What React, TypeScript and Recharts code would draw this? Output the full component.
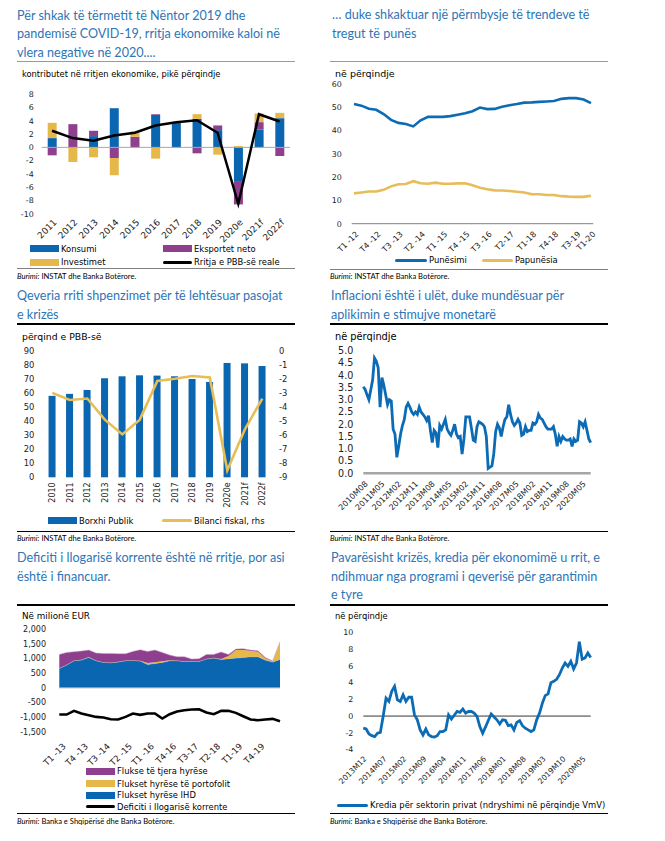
import React from "react";
import {
  BarChart, Bar, LineChart, Line, ComposedChart, Area, XAxis, YAxis, ReferenceLine,
} from "recharts";

// colours
const BLUE = "#0A66B0";
const PURPLE = "#8E3F8E";
const GOLD = "#E6B84A";
const TITLE = "#2E75B6";
const SANS = "'DejaVu Sans', Verdana, sans-serif";
const TITLE_FONT = "Lato, 'Open Sans', sans-serif";

// 1. GDP growth contributions
const gdpYears = ["2011", "2012", "2013", "2014", "2015", "2016", "2017", "2018", "2019", "2020e", "2021f", "2022f"];
const konsumi = [1.4, 0, 1.7, 5.9, 0, 4.9, 3.8, 4.3, 2.6, -5.2, 2.7, 4.4];
const eksportet = [-1.2, 3.5, 0.8, -1.6, 1.6, 0.1, 0, -0.9, 0.7, -3.4, 1.1, -1.3];
const investimet = [2.3, -2.2, -1.5, -2.6, 0.8, -1.7, -0.1, 0.7, -1.1, 0.2, 1.3, 0.8];
const rritja = [2.5, 1.4, 1.0, 1.8, 2.2, 3.3, 3.8, 4.1, 2.2, -8.5, 5.0, 3.9];
const gdpTicks = [-10, -8, -6, -4, -2, 0, 2, 4, 6, 8];

// 2. labour market
const labourQuarters = [
  "T1 -12", "T2 -12", "T3 -12", "T4 -12", "T1 -13", "T2 -13", "T3 -13", "T4 -13",
  "T1 -14", "T2 -14", "T3 -14", "T4 -14", "T1 -15", "T2 -15", "T3 -15", "T4 -15",
  "T1 -16", "T2 -16", "T3 -16", "T4 -16", "T1-17", "T2-17", "T3-17", "T4-17",
  "T1-18", "T2-18", "T3-18", "T4-18", "T1-19", "T2-19", "T3-19", "T4-19", "T1-20",
];
const labourLabels = ["T1 -12", "T4 -12", "T3 -13", "T2 -14", "T1 -15", "T4 -15", "T3 -16", "T2-17", "T1-18", "T4-18", "T3-19", "T1-20"];
const punesimi = [
  51.3, 50.6, 49.3, 48.8, 47.0, 44.5, 43.2, 42.7, 41.7, 44.3, 45.8, 45.8, 45.8, 46.1, 46.7, 47.3,
  48.2, 49.8, 49.1, 49.2, 50.1, 50.8, 51.3, 51.9, 52.0, 52.2, 52.4, 52.6, 53.5, 53.8, 53.8, 53.2, 51.7,
];
const papunesia = [
  13.0, 13.4, 13.8, 13.8, 14.5, 16.0, 16.9, 17.0, 18.2, 17.3, 17.1, 17.6, 17.1, 17.1, 17.3, 17.3,
  16.5, 15.4, 14.8, 14.3, 14.2, 14.0, 13.7, 13.4, 12.6, 12.6, 12.3, 12.3, 11.8, 11.6, 11.5, 11.5, 12.0,
];
const labourTicks = [0, 10, 20, 30, 40, 50, 60];

// 3. public debt and fiscal balance
const fiscalYears = ["2010", "2011", "2012", "2013", "2014", "2015", "2016", "2017", "2018", "2019", "2020e", "2021f", "2022f"];
const borxhi = [57.9, 59.3, 62.1, 70.4, 71.8, 72.5, 72.3, 71.8, 69.9, 67.8, 81.3, 81.0, 79.1];
const bilanci = [-3.0, -3.5, -3.4, -4.9, -5.95, -4.9, -2.15, -2.0, -1.8, -1.9, -8.5, -5.6, -3.4];
const debtTicks = [0, 10, 20, 30, 40, 50, 60, 70, 80, 90];
const balanceTicks = [0, -1, -2, -3, -4, -5, -6, -7, -8, -9];

// month labels like 2010M08
const months = (year: number, month: number, n: number) =>
  Array.from({ length: n }, (_, i) => {
    const t = month - 1 + i;
    return `${year + Math.floor(t / 12)}M${String((t % 12) + 1).padStart(2, "0")}`;
  });

// 4. inflation, 2010M08 - 2020M10
const inflMonths = months(2010, 8, 123);
const inflacioni = [
  3.53, 3.42, 3.2, 3.0, 3.4, 3.8, 4.7, 4.57, 4.3, 2.7,
  3.9, 3.6, 3.2, 2.8, 3.0, 2.95, 1.8, 1.6, 0.65, 1.1,
  1.6, 1.95, 2.2, 2.7, 2.85, 2.7, 2.5, 2.4, 2.5, 2.4,
  2.7, 2.5, 2.4, 2.3, 2.15, 2.35, 1.75, 1.25, 1.75, 1.65,
  1.05, 1.95, 1.8, 2.0, 2.2, 1.8, 1.65, 1.55, 1.75, 2.0,
  1.6, 1.45, 1.5, 0.78, 1.4, 2.3, 2.3, 2.3, 1.85, 1.35,
  1.3, 1.9, 2.1, 2.05, 2.0, 1.9, 1.5, 0.2, 0.25, 0.3,
  0.8, 1.7, 2.0, 1.85, 1.5, 1.9, 2.2, 2.3, 2.8, 2.4,
  2.1, 1.95, 2.05, 2.2, 2.05, 1.55, 1.6, 1.9, 1.7, 1.75,
  1.75, 2.05, 2.0, 2.1, 2.4, 2.25, 2.2, 2.05, 1.9, 1.8,
  1.8, 1.8, 1.9, 1.6, 1.1, 1.5, 1.3, 1.5, 1.4, 1.35,
  1.35, 1.4, 1.1, 1.4, 1.3, 1.35, 2.1, 2.05, 1.9, 2.1,
  1.75, 1.4, 1.25,
];
const inflTicks = [0, 0.5, 1, 1.5, 2, 2.5, 3, 3.5, 4, 4.5, 5];

// 5. current account and financing flows
const caQuarters = [
  "T1 -13", "T2 -13", "T3 -13", "T4 -13", "T1 -14", "T2 -14", "T3 -14", "T4 -14",
  "T1 -15", "T2 -15", "T3 -15", "T4 -15", "T1 -16", "T2 -16", "T3 -16", "T4-16",
  "T1-17", "T2-17", "T3-17", "T4-17", "T1-18", "T2-18", "T3-18", "T4-18",
  "T1-19", "T2-19", "T3-19", "T4-19", "T1-20", "T2-20", "T3-20",
];
const caLabels = ["T1 -13", "T4 -13", "T3 -14", "T2 -15", "T1 -16", "T4-16", "T3-17", "T2-18", "T1-19", "T4-19"];
const ihd = [662, 776, 925, 948, 1039, 925, 868, 856, 879, 925, 936, 914, 800, 834, 868, 925, 925, 902, 902, 902, 982, 1016, 971, 994, 1016, 1039, 1062, 1062, 948, 880, 971];
const portofoli = [10, 10, 10, 10, 10, 10, 10, 10, 10, 10, 10, 10, 50, 40, 40, 20, 10, 10, 10, 10, 10, 10, 10, 91, 274, 251, 206, 171, 60, 20, 605];
const tjera = [470, 424, 298, 298, 241, 253, 298, 310, 276, 230, 299, 378, 395, 416, 302, 174, 127, 150, 70, 82, 150, 116, 241, 57, 35, 46, 22, 34, 31, 20, 0];
const deficiti = [-914, -914, -788, -879, -936, -994, -1016, -1073, -1085, -994, -879, -925, -879, -879, -1051, -902, -811, -765, -742, -731, -845, -902, -788, -788, -856, -971, -1085, -1108, -1085, -1062, -1142];
const caTicks = [-1500, -1000, -500, 0, 500, 1000, 1500, 2000];

// 6. private sector credit, 2013M12 - 2020M08
const creditMonths = months(2013, 12, 81);
const kredia = [
  -1.45, -1.55, -2.15, -2.35, -2.45, -2.05, -1.95, 0.0, 2.15, 1.75,
  2.95, 3.55, 1.95, 1.75, 2.55, 1.75, 2.25, 2.25, 0.15, -0.45,
  -1.65, -2.25, -1.55, -2.25, -2.45, -2.5, -2.35, -1.85, -1.85, -1.65,
  0.15, -0.35, 0.1, 0.55, 0.45, 0.85, 0.35, 0.55, 0.55, 0.35,
  -0.05, -1.25, -2.05, -1.3, -0.5, 0.25, -0.1, -0.45, -0.95, -0.45,
  -0.5, -1.15, -1.05, -1.65, -0.75, -0.55, -1.15, -1.45, -1.65, -1.85,
  -1.65, -0.45, 0.35, 1.55, 2.45, 2.65, 4.0, 4.15, 4.4, 4.95,
  5.75, 6.35, 5.95, 6.55, 5.65, 6.35, 8.9, 6.8, 6.95, 7.55,
  7.0,
];
const creditTicks = [-4, -2, 0, 2, 4, 6, 8, 10];

const gdpData = gdpYears.map((name, i) => ({
  name, konsumi: konsumi[i], eksportet: eksportet[i], investimet: investimet[i], rritja: rritja[i],
}));
const labourData = labourQuarters.map((name, i) => ({ name, punesimi: punesimi[i], papunesia: papunesia[i] }));
const fiscalData = fiscalYears.map((name, i) => ({ name, borxhi: borxhi[i], bilanci: bilanci[i] }));
const inflData = inflMonths.map((name, i) => ({ name, v: inflacioni[i] }));
const caData = caQuarters.map((name, i) => ({
  name, ihd: ihd[i], portofoli: portofoli[i], tjera: tjera[i], deficiti: deficiti[i],
}));
const creditData = creditMonths.map((name, i) => ({ name, v: kredia[i] }));

const tick = (size = 8) => ({ fontSize: size, fill: "#222", fontFamily: SANS });

function slantTick(show: Set<string>, size: number, dx = 2, dy = 0) {
  return (props: any) => {
    const { x, y, payload } = props;
    if (!show.has(payload.value)) return <g />;
    return (
      <g transform={`translate(${x + dx},${y + dy}) rotate(-45)`}>
        <text textAnchor="end" dy="0.35em" {...tick(size)}>{payload.value}</text>
      </g>
    );
  };
}

const VerticalTick = (props: any) => {
  const { x, y, payload } = props;
  return (
    <g transform={`translate(${x},${y - 3}) rotate(-90)`}>
      <text textAnchor="end" dy="0.35em" {...tick(8)}>{payload.value}</text>
    </g>
  );
};

const Abs = ({ x, y, children, style }: any) => (
  <div style={{ position: "absolute", left: x, top: y, ...style }}>{children}</div>
);

const Title = ({ x, y, lines }: { x: number; y: number; lines: string[] }) => (
  <Abs x={x} y={y} style={{ fontFamily: TITLE_FONT, fontSize: 12.6, lineHeight: "18.7px", color: TITLE, whiteSpace: "nowrap" }}>
    {lines.map((l) => <div key={l}>{l}</div>)}
  </Abs>
);

const Rule = ({ x, y, w, color = "#000", h = 1.5 }: any) => (
  <div style={{ position: "absolute", left: x, top: y - h / 2, width: w, height: h, background: color }} />
);

const Sub = ({ x, y, text, size = 8.6 }: any) => (
  <Abs x={x} y={y - 6} style={{ fontFamily: SANS, fontSize: size, lineHeight: "12px", whiteSpace: "nowrap" }}>{text}</Abs>
);

const Source = ({ x, y, text }: any) => (
  <Abs x={x} y={y - 5} style={{ fontFamily: TITLE_FONT, fontSize: 7.6, lineHeight: "10px", whiteSpace: "nowrap" }}>
    <i>Burimi:</i> {text}
  </Abs>
);

const Key = ({ x, y, label, color, kind, w = 29 }: any) => (
  <Abs x={x} y={y - 6} style={{ display: "flex", alignItems: "center", height: 12, fontFamily: SANS, fontSize: 8.4, whiteSpace: "nowrap" }}>
    <span style={{ display: "inline-block", width: w, height: kind === "line" ? 3 : 7, borderRadius: kind === "line" ? 2 : 0, background: color, marginRight: 2 }} />
    {label}
  </Abs>
);

export default function App() {
  return (
    <div style={{ position: "absolute", left: 0, top: 0, width: 665, height: 841, background: "#fff", overflow: "hidden" }}>
      {/* ---------- panel 1 ---------- */}
      <Title x={17} y={6.5} lines={["Për shkak të tërmetit të Nëntor 2019 dhe", "pandemisë COVID-19, rritja ekonomike kaloi në", "vlera negative në 2020...."]} />
      <Rule x={17} y={61.7} w={278} color="#9a9a9a" h={1} />
      <Sub x={22} y={73.5} text="kontributet në rritjen ekonomike, pikë përqindje" size={8.3} />
      <div style={{ position: "absolute", left: 0, top: 84 }}>
        <BarChart width={300} height={160} data={gdpData} stackOffset="sign" barSize={9}
          margin={{ top: 10.3, right: 10, bottom: 0, left: 0 }}>
          <XAxis dataKey="name" axisLine={false} tickLine={false} interval={0} height={30.3}
            tick={slantTick(new Set(gdpYears), 9, 3, -1)} />
          <YAxis width={41.7} domain={[-10, 8]} ticks={gdpTicks} axisLine={false} tickLine={false} tick={tick(7.9)} interval={0} />
          <ReferenceLine y={0} stroke="#a6a6a6" strokeWidth={1} />
          <Bar dataKey="konsumi" stackId="a" fill={BLUE} isAnimationActive={false} />
          <Bar dataKey="eksportet" stackId="a" fill={PURPLE} isAnimationActive={false} />
          <Bar dataKey="investimet" stackId="a" fill={GOLD} isAnimationActive={false} />
          <Line dataKey="rritja" stroke="#000" strokeWidth={2.5} dot={false} isAnimationActive={false} />
        </BarChart>
      </div>
      <Key x={30} y={248.5} label="Konsumi" color={BLUE} kind="bar" />
      <Key x={163} y={248.5} label="Eksportet neto" color={PURPLE} kind="bar" />
      <Key x={30} y={262} label="Investimet" color={GOLD} kind="bar" />
      <Key x={163} y={262} label="Rritja e PBB-së reale" color="#000" kind="line" />
      <Rule x={17} y={268.3} w={278} color="#7f7f7f" h={1} />
      <Source x={17} y={276} text="INSTAT dhe Banka Botërore." />

      {/* ---------- panel 2 ---------- */}
      <Title x={332} y={6} lines={["… duke shkaktuar një përmbysje të trendeve të", "tregut të punës"]} />
      <Rule x={330} y={61.7} w={278} color="#9a9a9a" h={1} />
      <Sub x={335} y={73.5} text="në përqindje" size={9.5} />
      <div style={{ position: "absolute", left: 330, top: 80 }}>
        <LineChart width={278} height={176} data={labourData} margin={{ top: 3.7, right: 14.7, bottom: 0, left: 0 }}>
          <XAxis dataKey="name" interval={0} height={32.3} tickLine={false} axisLine={{ stroke: "#808080", strokeWidth: 1 }}
            padding={{ left: 2.3, right: 2.3 }} tick={slantTick(new Set(labourLabels), 8, 3, 1)} />
          <YAxis width={21.7} domain={[0, 60]} ticks={labourTicks} axisLine={false} tickLine={false} tickMargin={4} tick={tick(7.9)} interval={0} />
          <Line dataKey="punesimi" stroke="#0B6BB5" strokeWidth={2.6} dot={false} isAnimationActive={false} />
          <Line dataKey="papunesia" stroke="#E7BD5A" strokeWidth={2.6} dot={false} isAnimationActive={false} />
        </LineChart>
      </div>
      <Key x={395} y={260} label="Punësimi" color="#0B6BB5" kind="line" w={32} />
      <Key x={482} y={260} label="Papunësia" color="#E7BD5A" kind="line" w={31} />
      <Rule x={330} y={269.3} w={278} color="#7f7f7f" h={1} />
      <Source x={330} y={276} text="INSTAT dhe Banka Botërore." />

      {/* ---------- panel 3 ---------- */}
      <Title x={17} y={287.3} lines={["Qeveria rriti shpenzimet për të lehtësuar pasojat", "e krizës"]} />
      <Rule x={17} y={324} w={278} />
      <Sub x={22} y={336.7} text="përqind e PBB-së" size={9.3} />
      <div style={{ position: "absolute", left: 0, top: 340 }}>
        <ComposedChart width={296} height={172} data={fiscalData} barSize={7}
          margin={{ top: 10.7, right: 0, bottom: 0, left: 0 }}>
          <XAxis dataKey="name" interval={0} height={34.7} axisLine={false} tickLine={false} tick={<VerticalTick />} />
          <YAxis yAxisId="l" width={43.55} domain={[0, 90]} ticks={debtTicks} axisLine={false} tickLine={false} tickMargin={3.2} tick={tick(8.4)} interval={0} />
          <YAxis yAxisId="r" orientation="right" width={24.95} domain={[-9, 0]} ticks={balanceTicks} axisLine={false} tickLine={false} tick={{ ...tick(8.4), textAnchor: "start" }} interval={0} />
          <Bar yAxisId="l" dataKey="borxhi" fill={BLUE} isAnimationActive={false} />
          <Line yAxisId="r" dataKey="bilanci" stroke="#E6BE55" strokeWidth={2.6} dot={false} isAnimationActive={false} />
        </ComposedChart>
      </div>
      <Key x={48} y={520.7} label="Borxhi Publik" color={BLUE} kind="bar" />
      <Key x={162} y={520.7} label="Bilanci fiskal, rhs" color="#E6BE55" kind="line" w={30} />
      <Rule x={17} y={531.7} w={278} />
      <Source x={17} y={537.5} text="INSTAT dhe Banka Botërore." />

      {/* ---------- panel 4 ---------- */}
      <Title x={331} y={287.3} lines={["Inflacioni është i ulët, duke mundësuar për", "aplikimin e stimujve monetarë"]} />
      <Rule x={330} y={324} w={278} />
      <Sub x={335} y={337.3} text="në përqindje" size={9.8} />
      <div style={{ position: "absolute", left: 330, top: 340 }}>
        <LineChart width={278} height={178} data={inflData} margin={{ top: 10.7, right: 17.3, bottom: 0, left: 0 }}>
          <XAxis dataKey="name" interval={0} height={44.7} tickLine={false} axisLine={{ stroke: "#a6a6a6", strokeWidth: 2.5 }}
            tick={slantTick(new Set(inflMonths.filter((_, i) => i % 9 === 0)), 8, 3, 1)} />
          <YAxis width={33.3} domain={[0, 5]} ticks={inflTicks} axisLine={false} tickLine={false} tickMargin={4}
            tick={tick(9.6)} tickFormatter={(v: number) => v.toFixed(1)} interval={0} />
          <Line dataKey="v" stroke="#0B6BB5" strokeWidth={2.8} dot={false} isAnimationActive={false} />
        </LineChart>
      </div>
      <Rule x={330} y={531.7} w={278} />
      <Source x={330} y={537.5} text="INSTAT dhe Banka Botërore." />

      {/* ---------- panel 5 ---------- */}
      <Title x={17} y={549} lines={["Deficiti i llogarisë korrente është në rritje, por asi", "është i financuar."]} />
      <Rule x={17} y={605} w={278} />
      <Sub x={22} y={616} text="Në milionë EUR" size={8.8} />
      <div style={{ position: "absolute", left: 0, top: 620 }}>
        <ComposedChart width={300} height={148} data={caData} margin={{ top: 9.3, right: 20, bottom: 0, left: 0 }}>
          <XAxis dataKey="name" interval={0} height={36.3} axisLine={false} tickLine={false}
            tick={slantTick(new Set(caLabels), 8.6, 5, 5)} />
          <YAxis width={59.3} domain={[-1500, 2000]} ticks={caTicks} axisLine={false} tickLine={false} tickMargin={7.3}
            tick={tick(8)} tickFormatter={(v: number) => v.toLocaleString("en-US")} interval={0} />
          <Area dataKey="ihd" stackId="s" type="linear" fill={BLUE} fillOpacity={1} stroke="#9bb8d8" strokeWidth={0.6} isAnimationActive={false} />
          <Area dataKey="portofoli" stackId="s" type="linear" fill={GOLD} fillOpacity={1} stroke="none" isAnimationActive={false} />
          <Area dataKey="tjera" stackId="s" type="linear" fill={PURPLE} fillOpacity={1} stroke="#c9a0c8" strokeWidth={0.5} isAnimationActive={false} />
          <ReferenceLine y={0} stroke="#a6a6a6" strokeWidth={1} />
          <Line dataKey="deficiti" stroke="#000" strokeWidth={2.6} dot={false} isAnimationActive={false} />
        </ComposedChart>
      </div>
      <Key x={86} y={771} label="Flukse të tjera hyrëse" color={PURPLE} kind="bar" />
      <Key x={86} y={783.7} label="Flukset hyrëse të portofolit" color={GOLD} kind="bar" />
      <Key x={86} y={795} label="Flukset hyrëse IHD" color={BLUE} kind="bar" />
      <Key x={86} y={806.7} label="Deficiti i llogarisë korrente" color="#000" kind="line" />
      <Rule x={17} y={813.3} w={278} />
      <Source x={17} y={821} text="Banka e Shqipërisë dhe Banka Botërore." />

      {/* ---------- panel 6 ---------- */}
      <Title x={331} y={549} lines={["Pavarësisht krizës, kredia për ekonomimë u rrit, e", "ndihmuar nga programi i qeverisë për garantimin", "e tyre"]} />
      <Rule x={330} y={605} w={278} />
      <Sub x={335} y={616} text="në përqindje" size={8.4} />
      <div style={{ position: "absolute", left: 330, top: 620 }}>
        <LineChart width={278} height={170} data={creditData} margin={{ top: 12.5, right: 17.3, bottom: 0, left: 0 }}>
          <XAxis dataKey="name" interval={0} height={40.5} axisLine={false} tickLine={false}
            tick={slantTick(new Set(creditMonths.filter((_, i) => i % 7 === 0)), 7.6, 2, 0)} />
          <YAxis width={33.3} domain={[-4, 10]} ticks={creditTicks} axisLine={false} tickLine={false} tickMargin={4} tick={tick(7.9)} interval={0} />
          <ReferenceLine y={0} stroke="#000" strokeWidth={0.8} />
          <Line dataKey="v" stroke="#0B6BB5" strokeWidth={2.8} dot={false} isAnimationActive={false} />
        </LineChart>
      </div>
      <Key x={337} y={805} label="Kredia për sektorin privat (ndryshimi në përqindje VmV)" color="#0B6BB5" kind="line" w={31} />
      <Rule x={330} y={813.3} w={278} />
      <Source x={330} y={821} text="Banka e Shqipërisë dhe Banka Botërore." />
    </div>
  );
}
